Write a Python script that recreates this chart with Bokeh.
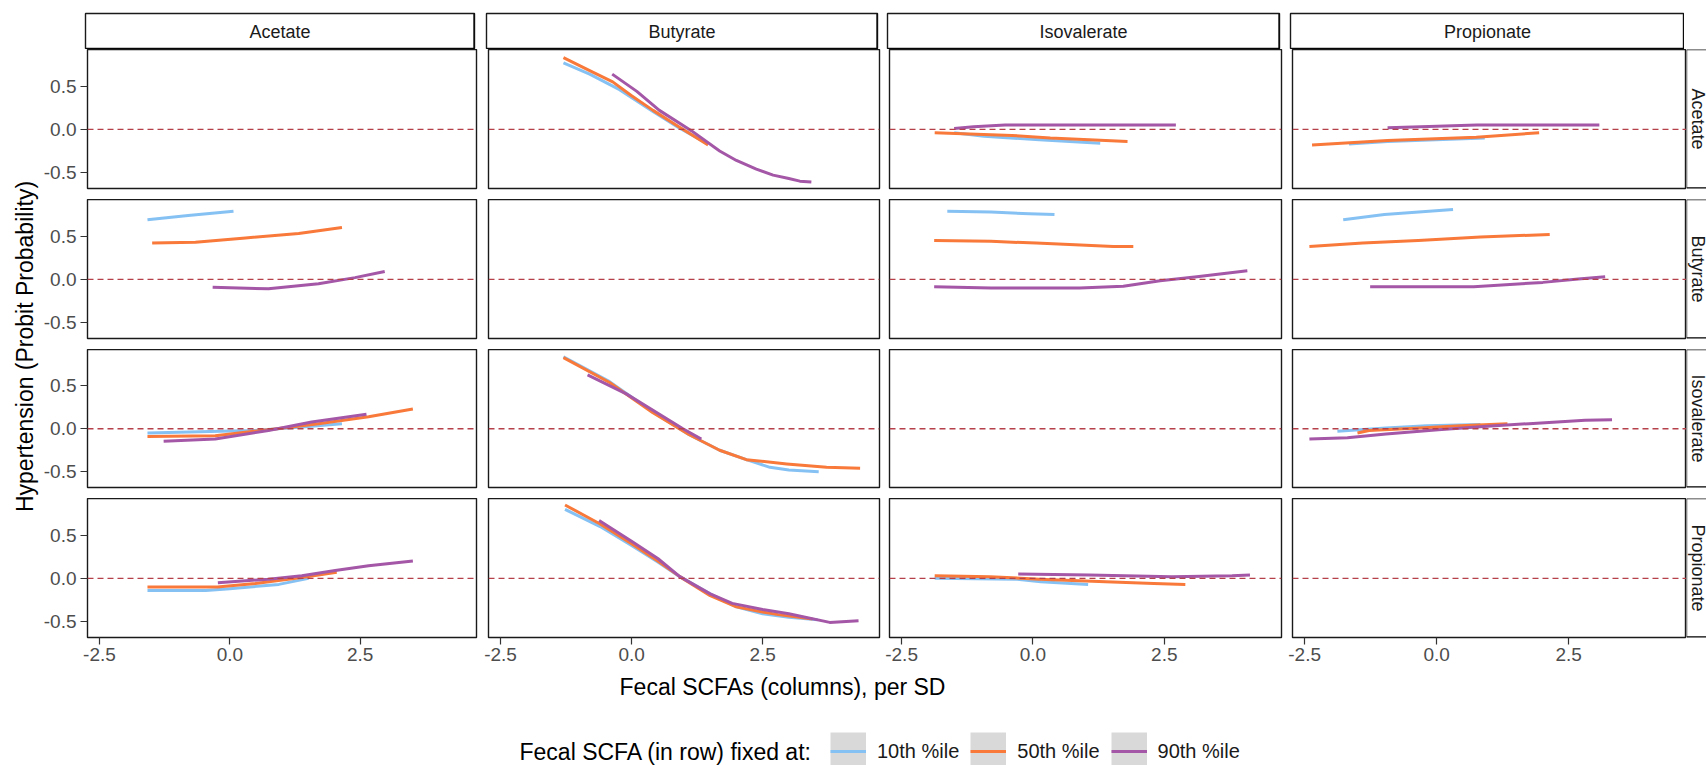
from bokeh.plotting import figure
from bokeh.layouts import row, column
from bokeh.models import (Range1d, Label, Span, FixedTicker, PrintfTickFormatter,
                          Legend, LegendItem, Spacer)
from bokeh.embed import file_html
from bokeh.resources import INLINE
import math

FONT = "Liberation Sans"
SCFAS = ["Acetate", "Butyrate", "Isovalerate", "Propionate"]
PCT_LABELS = ["10th %ile", "50th %ile", "90th %ile"]
COLORS = ["#86C1F3", "#F8793A", "#A457A6"]
X_TICKS = [-2.5, 0.0, 2.5]
Y_TICKS = [-0.5, 0.0, 0.5]
X_TITLE = "Fecal SCFAs (columns), per SD"
Y_TITLE = "Hypertension (Probit Probability)"
LEGEND_TITLE = "Fecal SCFA (in row) fixed at:"

# ---- data: row SCFA (fixed) x column SCFA (varied) ----
# Row Acetate
ace_but_x10 = [-1.30, -0.80, -0.23, 0.40, 0.90, 1.43]
ace_but_y10 = [0.77, 0.64, 0.46, 0.21, 0.02, -0.16]
ace_but_x50 = [-1.30, -0.80, -0.36, 0.00, 0.41, 0.90, 1.46]
ace_but_y50 = [0.83, 0.68, 0.55, 0.39, 0.22, 0.03, -0.18]
ace_but_x90 = [-0.37, 0.10, 0.53, 1.14, 1.68, 2.00, 2.38, 2.70, 3.00, 3.21, 3.43]
ace_but_y90 = [0.64, 0.44, 0.22, -0.015, -0.25, -0.36, -0.46, -0.53, -0.57, -0.60, -0.61]

ace_iso_x10 = [-1.50, -0.93, 0.12, 1.28]
ace_iso_y10 = [-0.04, -0.08, -0.12, -0.16]
ace_iso_x50 = [-1.87, -0.40, 0.33, 1.07, 1.80]
ace_iso_y50 = [-0.04, -0.07, -0.10, -0.12, -0.14]
ace_iso_x90 = [-1.50, -1.13, -0.53, 2.72]
ace_iso_y90 = [0.01, 0.03, 0.05, 0.05]

ace_pro_x10 = [-1.66, -0.93, 0.91]
ace_pro_y10 = [-0.17, -0.14, -0.10]
ace_pro_x50 = [-2.36, -0.93, 0.75, 1.94]
ace_pro_y50 = [-0.18, -0.13, -0.09, -0.04]
ace_pro_x90 = [-0.93, -0.30, 0.76, 3.08]
ace_pro_y90 = [0.02, 0.03, 0.05, 0.05]

# Row Butyrate
but_ace_x10 = [-1.58, -0.80, 0.07]
but_ace_y10 = [0.69, 0.74, 0.79]
but_ace_x50 = [-1.49, -0.66, 0.30, 1.32, 2.15]
but_ace_y50 = [0.42, 0.43, 0.48, 0.53, 0.60]
but_ace_x90 = [-0.33, 0.74, 1.70, 2.40, 2.97]
but_ace_y90 = [-0.09, -0.11, -0.05, 0.02, 0.09]

but_iso_x10 = [-1.63, -0.80, -0.07, 0.41]
but_iso_y10 = [0.79, 0.78, 0.76, 0.75]
but_iso_x50 = [-1.88, -0.80, 0.06, 0.80, 1.53, 1.91]
but_iso_y50 = [0.45, 0.44, 0.42, 0.40, 0.38, 0.38]
but_iso_x90 = [-1.88, -0.80, 0.89, 1.72, 2.42, 3.12, 4.08]
but_iso_y90 = [-0.085, -0.10, -0.10, -0.08, -0.015, 0.03, 0.10]

but_pro_x10 = [-1.77, -0.99, 0.31]
but_pro_y10 = [0.69, 0.75, 0.81]
but_pro_x50 = [-2.41, -1.40, -0.35, 0.83, 2.14]
but_pro_y50 = [0.38, 0.42, 0.45, 0.49, 0.52]
but_pro_x90 = [-1.26, 0.70, 2.01, 2.68, 3.19]
but_pro_y90 = [-0.085, -0.085, -0.035, 0.005, 0.03]

# Row Isovalerate
iso_ace_x10 = [-1.58, 0.43, 1.38, 2.15]
iso_ace_y10 = [-0.05, -0.02, 0.02, 0.06]
iso_ace_x50 = [-1.58, -0.28, 0.74, 1.70, 2.66, 3.51]
iso_ace_y50 = [-0.09, -0.08, -0.01, 0.06, 0.14, 0.23]
iso_ace_x90 = [-1.27, -0.28, 0.74, 1.57, 2.62]
iso_ace_y90 = [-0.145, -0.12, -0.02, 0.08, 0.17]

iso_but_x10 = [-1.30, -0.42, 0.40, 1.10, 1.68, 2.19, 2.64, 3.00, 3.57]
iso_but_y10 = [0.84, 0.55, 0.20, -0.07, -0.25, -0.36, -0.45, -0.48, -0.50]
iso_but_x50 = [-1.30, -0.42, 0.40, 1.10, 1.68, 2.19, 2.96, 3.72, 4.36]
iso_but_y50 = [0.83, 0.54, 0.19, -0.07, -0.25, -0.36, -0.41, -0.45, -0.46]
iso_but_x90 = [-0.84, -0.11, 0.98, 1.33]
iso_but_y90 = [0.63, 0.41, 0.00, -0.12]

iso_pro_x10 = [-1.88, -0.96, -0.19, 0.83]
iso_pro_y10 = [-0.03, 0.01, 0.035, 0.05]
iso_pro_x50 = [-1.50, -1.28, -0.32, 0.45, 1.34]
iso_pro_y50 = [-0.05, -0.02, 0.01, 0.035, 0.06]
iso_pro_x90 = [-2.41, -1.69, -0.96, 0.03, 0.96, 1.75, 2.81, 3.32]
iso_pro_y90 = [-0.12, -0.105, -0.06, -0.01, 0.03, 0.06, 0.10, 0.105]

# Row Propionate
pro_ace_x10 = [-1.58, -0.46, 0.00, 0.94, 1.51]
pro_ace_y10 = [-0.14, -0.14, -0.12, -0.07, 0.00]
pro_ace_x50 = [-1.58, -0.24, 0.49, 1.38, 2.05]
pro_ace_y50 = [-0.10, -0.10, -0.06, 0.01, 0.07]
pro_ace_x90 = [-0.23, 0.74, 1.38, 2.02, 2.66, 3.51]
pro_ace_y90 = [-0.05, -0.01, 0.03, 0.09, 0.145, 0.20]

pro_but_x10 = [-1.27, -0.60, 0.00, 0.50, 0.92, 1.50, 2.00, 2.50, 3.00, 3.55]
pro_but_y10 = [0.80, 0.60, 0.38, 0.19, 0.02, -0.18, -0.33, -0.41, -0.45, -0.48]
pro_but_x50 = [-1.27, -0.60, 0.00, 0.50, 0.92, 1.50, 2.00, 2.50, 2.80, 3.45]
pro_but_y50 = [0.85, 0.63, 0.40, 0.20, 0.02, -0.20, -0.33, -0.39, -0.42, -0.47]
pro_but_x90 = [-0.62, 0.00, 0.50, 0.92, 1.50, 1.92, 2.50, 3.00, 3.78, 4.33]
pro_but_y90 = [0.67, 0.43, 0.23, 0.02, -0.18, -0.29, -0.36, -0.41, -0.51, -0.49]

pro_iso_x10 = [-1.87, -0.30, 0.15, 1.05]
pro_iso_y10 = [0.00, -0.01, -0.04, -0.07]
pro_iso_x50 = [-1.87, -0.82, 0.12, 1.38, 2.30, 2.90]
pro_iso_y50 = [0.03, 0.02, -0.01, -0.04, -0.06, -0.07]
pro_iso_x90 = [-0.28, 1.07, 2.64, 3.79, 4.13]
pro_iso_y90 = [0.05, 0.04, 0.02, 0.03, 0.04]

PANEL_DATA = {
    ("Acetate", "Butyrate"): [(ace_but_x10, ace_but_y10), (ace_but_x50, ace_but_y50), (ace_but_x90, ace_but_y90)],
    ("Acetate", "Isovalerate"): [(ace_iso_x10, ace_iso_y10), (ace_iso_x50, ace_iso_y50), (ace_iso_x90, ace_iso_y90)],
    ("Acetate", "Propionate"): [(ace_pro_x10, ace_pro_y10), (ace_pro_x50, ace_pro_y50), (ace_pro_x90, ace_pro_y90)],
    ("Butyrate", "Acetate"): [(but_ace_x10, but_ace_y10), (but_ace_x50, but_ace_y50), (but_ace_x90, but_ace_y90)],
    ("Butyrate", "Isovalerate"): [(but_iso_x10, but_iso_y10), (but_iso_x50, but_iso_y50), (but_iso_x90, but_iso_y90)],
    ("Butyrate", "Propionate"): [(but_pro_x10, but_pro_y10), (but_pro_x50, but_pro_y50), (but_pro_x90, but_pro_y90)],
    ("Isovalerate", "Acetate"): [(iso_ace_x10, iso_ace_y10), (iso_ace_x50, iso_ace_y50), (iso_ace_x90, iso_ace_y90)],
    ("Isovalerate", "Butyrate"): [(iso_but_x10, iso_but_y10), (iso_but_x50, iso_but_y50), (iso_but_x90, iso_but_y90)],
    ("Isovalerate", "Propionate"): [(iso_pro_x10, iso_pro_y10), (iso_pro_x50, iso_pro_y50), (iso_pro_x90, iso_pro_y90)],
    ("Propionate", "Acetate"): [(pro_ace_x10, pro_ace_y10), (pro_ace_x50, pro_ace_y50), (pro_ace_x90, pro_ace_y90)],
    ("Propionate", "Butyrate"): [(pro_but_x10, pro_but_y10), (pro_but_x50, pro_but_y50), (pro_but_x90, pro_but_y90)],
    ("Propionate", "Isovalerate"): [(pro_iso_x10, pro_iso_y10), (pro_iso_x50, pro_iso_y50), (pro_iso_x90, pro_iso_y90)],
}

X_RANGE = (-2.73, 4.73)
Y_RANGE = (-0.685, 0.925)

# ---- layout geometry (pixels) ----
YTITLE_W = 40
COL_FRAME_W = [389, 391, 392, 394]
COL_BORDER_L = [45, 6, 5, 5]
COL_BORDER_R = [6, 5, 6, 0]
RSTRIP_W = 22
STRIP_TOP = 13
STRIP_H = 36
ROW_FRAME_H = [139, 139, 138, 139]
ROW_BORDER_B = [11, 11, 11, 36]
BOTTOM_H = 92
TOTAL_W = 1706

BORDER_COL = "#1A1A1A"
ZERO_COL = "#B5404A"
KEY_FILL = "#D9D9D9"


def base_fig(fw, fh, bl, br, bt, bb, xr, yr, xloc=None, yloc=None):
    f = figure(frame_width=fw, frame_height=fh, min_border_left=bl, min_border_right=br,
               min_border_top=bt, min_border_bottom=bb, x_range=xr, y_range=yr,
               x_axis_location=xloc, y_axis_location=yloc,
               toolbar_location=None, output_backend="svg")
    f.grid.visible = False
    f.background_fill_color = "white"
    f.border_fill_color = "white"
    return f


def style_axis(ax, ticks):
    ax.ticker = FixedTicker(ticks=ticks, minor_ticks=[])
    ax.formatter = PrintfTickFormatter(format="%.1f")
    ax.axis_line_color = None
    ax.major_tick_line_color = "#333333"
    ax.major_tick_line_width = 1.2
    ax.major_tick_out = 7
    ax.major_tick_in = 0
    ax.minor_tick_out = 0
    ax.minor_tick_in = 0
    ax.major_label_text_font = FONT
    ax.major_label_text_font_size = "19px"
    ax.major_label_text_color = "#4D4D4D"


# strip row
strip_figs = []
for c, name in enumerate(SCFAS):
    s = base_fig(COL_FRAME_W[c], STRIP_H, COL_BORDER_L[c], COL_BORDER_R[c], STRIP_TOP, 0,
                 Range1d(0, 1), Range1d(0, 1))
    s.outline_line_color = BORDER_COL
    s.outline_line_width = 1.4
    s.add_layout(Span(location=0, dimension="width", line_color="black", line_width=2.6))
    s.add_layout(Span(location=1, dimension="height", line_color="black", line_width=2.2))
    s.add_layout(Label(x=0.5, y=0.5, text=name, text_align="center", text_baseline="middle",
                       text_font=FONT, text_font_size="18px", text_color="#1A1A1A"))
    strip_figs.append(s)
strip_figs.append(Spacer(width=RSTRIP_W, height=STRIP_TOP + STRIP_H))
strip_row = row(strip_figs, spacing=0)

panel_rows = []
for r, rname in enumerate(SCFAS):
    figs = []
    for c, cname in enumerate(SCFAS):
        p = base_fig(COL_FRAME_W[c], ROW_FRAME_H[r], COL_BORDER_L[c], COL_BORDER_R[c], 0,
                     ROW_BORDER_B[r], Range1d(*X_RANGE), Range1d(*Y_RANGE),
                     xloc="below" if r == 3 else None, yloc="left" if c == 0 else None)
        p.outline_line_color = BORDER_COL
        p.outline_line_width = 1.4
        if r == 3:
            style_axis(p.xaxis[0], X_TICKS)
            p.xaxis[0].major_label_standoff = 3
        if c == 0:
            style_axis(p.yaxis[0], Y_TICKS)
            p.yaxis[0].major_label_standoff = 4
        series = PANEL_DATA.get((rname, cname))
        if series:
            for (xs, ys), col in zip(series, COLORS):
                p.line(xs, ys, line_color=col, line_width=3, line_join="round")
        p.add_layout(Span(location=0, dimension="width", line_color=ZERO_COL,
                          line_width=1.4, line_dash="6 4"))
        figs.append(p)
    # right strip
    rs = base_fig(RSTRIP_W, ROW_FRAME_H[r], 0, 0, 0, ROW_BORDER_B[r], Range1d(0, 1), Range1d(0, 1))
    rs.outline_line_color = None
    rs.add_layout(Span(location=1, dimension="width", line_color=BORDER_COL, line_width=1.4))
    rs.add_layout(Span(location=0, dimension="width", line_color="black", line_width=2.6))
    rs.add_layout(Span(location=0, dimension="height", line_color=BORDER_COL, line_width=1.4))
    rs.add_layout(Label(x=0.5, y=0.5, text=rname, angle=-math.pi / 2, text_align="center",
                        text_baseline="middle", text_font=FONT, text_font_size="18px",
                        text_color="#1A1A1A"))
    figs.append(rs)
    panel_rows.append(row(figs, spacing=0))

grid = column([strip_row] + panel_rows, spacing=0)
grid_h = STRIP_TOP + STRIP_H + sum(ROW_FRAME_H) + sum(ROW_BORDER_B)

# y title
yt = base_fig(YTITLE_W, grid_h, 0, 0, 0, 0, Range1d(0, YTITLE_W), Range1d(0, grid_h))
yt.outline_line_color = None
yt.add_layout(Label(x=24, y=grid_h - 346, text=Y_TITLE, angle=math.pi / 2, text_align="center",
                    text_baseline="middle", text_font=FONT, text_font_size="23px",
                    text_color="black"))

# bottom: x title + legend
bot = base_fig(TOTAL_W, BOTTOM_H, 0, 0, 0, 0, Range1d(0, TOTAL_W), Range1d(0, BOTTOM_H))
bot.outline_line_color = None
bot.add_layout(Label(x=782, y=79, text=X_TITLE, text_align="center", text_baseline="middle",
                     text_font=FONT, text_font_size="23px", text_color="black"))
bot.add_layout(Label(x=519, y=14, text=LEGEND_TITLE, text_align="left", text_baseline="middle",
                     text_font=FONT, text_font_size="23px", text_color="black"))
nan = float("nan")
items = []
for lbl, col in zip(PCT_LABELS, COLORS):
    bg = bot.line([nan, nan], [nan, nan], line_color=KEY_FILL, line_width=38, line_cap="butt")
    fg = bot.line([nan, nan], [nan, nan], line_color=col, line_width=3)
    items.append(LegendItem(label=lbl, renderers=[bg, fg]))
leg = Legend(items=items, orientation="horizontal", location=(830, -5), glyph_width=36,
             glyph_height=38, label_standoff=11, spacing=11, padding=0, margin=0,
             border_line_color=None, background_fill_alpha=0, label_text_font=FONT,
             label_text_font_size="20px", label_text_color="#1A1A1A")
bot.add_layout(leg)

layout = column(row(yt, grid, spacing=0), bot, spacing=0)

open("out.html", "w").write(file_html(layout, INLINE))
